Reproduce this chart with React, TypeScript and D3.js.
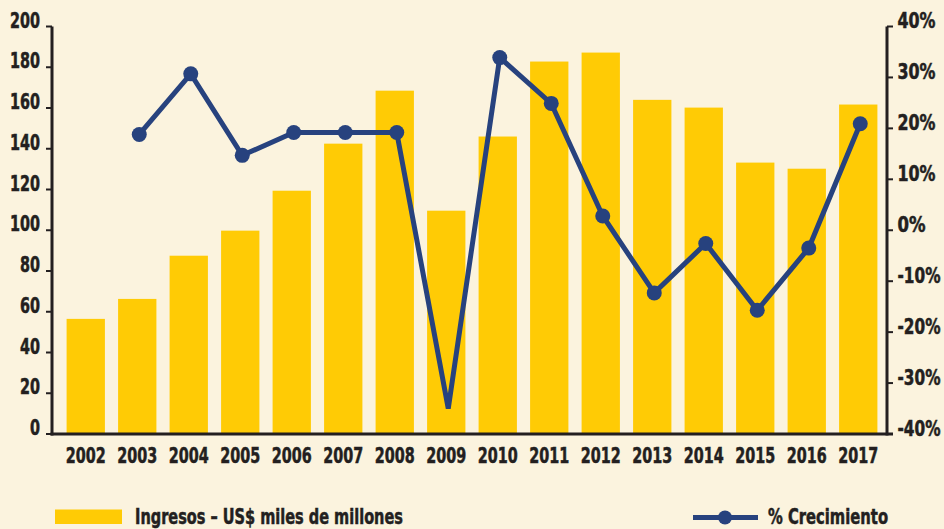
import React, { useLayoutEffect, useRef, useState } from "react";
import * as d3 from "d3";

const years = ["2002","2003","2004","2005","2006","2007","2008","2009","2010","2011","2012","2013","2014","2015","2016","2017"];
const ingresos = [56.5, 66.3, 87.5, 99.8, 119.4, 142.5, 168.5, 109.6, 146, 182.8, 187.2, 164, 160.2, 133.2, 130.2, 161.7];
const crecimiento: (number | null)[] = [null, 18.8, 30.7, 14.7, 19.2, 19.2, 19.2, -35.0, 33.9, 24.9, 2.8, -12.3, -2.6, -15.7, -3.5, 20.9];
const leftTicks = [0, 20, 40, 60, 80, 100, 120, 140, 160, 180, 200];
const rightTicks = [-40, -30, -20, -10, 0, 10, 20, 30, 40];
const barLabel = "Ingresos – US$ miles de millones";
const lineLabel = "% Crecimiento";

const W = 944, H = 529;
const BG = "#fbf3de";
const BAR = "#ffcb05";
const LINE = "#27427e";
const INK = "#231f20";
const FONT = "'DejaVu Sans Condensed', 'Liberation Sans Narrow', sans-serif";

// approximate glyph widths of the condensed black face, used as horizontal scale targets
const glyphW = (s: string) => {
  let w = 0;
  for (const c of s) w += c === "%" ? 18 : c === "-" ? 5 : 10;
  return w;
};

type FitProps = { x: number; y: number; w: number; fs: number; anchor?: "start" | "middle" | "end"; text: string };
function FitText({ x, y, w, fs, anchor = "start", text }: FitProps) {
  const ref = useRef<SVGTextElement>(null);
  const [s, setS] = useState(0.8);
  useLayoutEffect(() => {
    const n = ref.current ? ref.current.getComputedTextLength() : 0;
    if (n > 0) setS(w / n);
  }, [w, text, fs]);
  return (
    <g transform={`translate(${x},${y}) scale(${s},1)`}>
      <text ref={ref} x={0} y={0} textAnchor={anchor} fontSize={fs} fill={INK} stroke={INK} strokeWidth={0.5}>{text}</text>
    </g>
  );
}

export default function App() {
  const x = d3.scaleBand<string>().domain(years).range([60, 884]).paddingInner(0.256).paddingOuter(0.128);
  const yL = d3.scaleLinear().domain([0, 200]).range([434, 26.5]);
  const yR = d3.scaleLinear().domain([-40, 40]).range([434, 26.5]);
  const cx = (d: string) => (x(d) as number) + x.bandwidth() / 2 + 2;

  const pts = years.map((y, i) => ({ y, v: crecimiento[i] })).filter(p => p.v !== null) as { y: string; v: number }[];
  const line = d3.line<{ y: string; v: number }>().x(p => cx(p.y)).y(p => yR(p.v));

  const axL = 52, axR = 887;

  return (
    <svg width={W} height={H} style={{ position: "absolute", left: 0, top: 0 }} fontFamily={FONT} fontWeight="bold">
      <rect width={W} height={H} fill={BG} />
      {years.map((y, i) => (
        <rect key={y} x={x(y)} y={yL(ingresos[i])} width={x.bandwidth()} height={yL(0) - yL(ingresos[i])} fill={BAR} />
      ))}
      {/* axes */}
      <line x1={axL} x2={axL} y1={yL(200)} y2={yL(0) + 1.5} stroke={INK} strokeWidth={3} />
      <line x1={axR} x2={axR} y1={yR(40)} y2={yR(-40) + 1.5} stroke={INK} strokeWidth={3} />
      <line x1={axL - 1.5} x2={axR + 6} y1={yL(0)} y2={yL(0)} stroke={INK} strokeWidth={3} />
      {leftTicks.map(t => (
        <g key={"l" + t}>
          <line x1={axL - 6} x2={axL} y1={yL(t)} y2={yL(t)} stroke={INK} strokeWidth={2} />
          <FitText x={40} y={yL(t) + 1} anchor="end" fs={20.5} w={glyphW(String(t))} text={String(t)} />
        </g>
      ))}
      {rightTicks.map(t => (
        <g key={"r" + t}>
          <line x1={axR} x2={axR + 6} y1={yR(t)} y2={yR(t)} stroke={INK} strokeWidth={2} />
          <FitText x={897.5} y={yR(t) + 1.5} anchor="start" fs={20.5} w={glyphW(t + "%")} text={t + "%"} />
        </g>
      ))}
      {years.map(y => (
        <FitText key={"x" + y} x={(x(y) as number) + x.bandwidth() / 2} y={463} anchor="middle" fs={21} w={40} text={y} />
      ))}
      {/* line */}
      <path d={line(pts) || ""} fill="none" stroke={LINE} strokeWidth={5} strokeLinejoin="miter" strokeMiterlimit={4} />
      {pts.filter(p => p.y !== "2009").map(p => (
        <circle key={"c" + p.y} cx={cx(p.y)} cy={yR(p.v)} r={7.5} fill={LINE} />
      ))}
      {/* legend */}
      <rect x={55} y={509.5} width={67} height={14.5} fill={BAR} />
      <FitText x={135} y={524} fs={20.5} w={268} text={barLabel} />
      <line x1={693} x2={758} y1={517.5} y2={517.5} stroke={LINE} strokeWidth={5} />
      <circle cx={725} cy={517.5} r={7} fill={LINE} />
      <FitText x={768} y={524} fs={20.5} w={120} text={lineLabel} />
    </svg>
  );
}
